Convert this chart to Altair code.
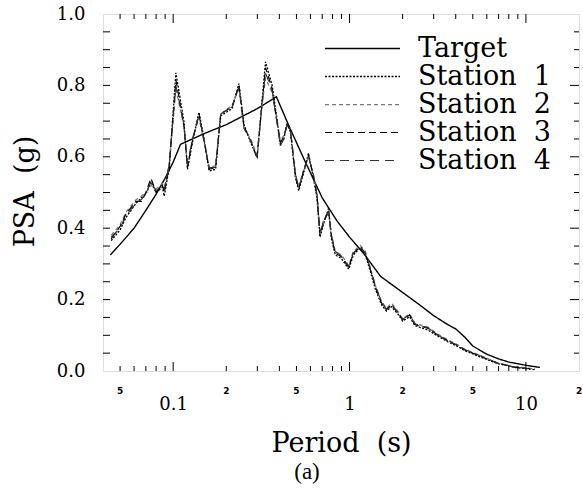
import altair as alt
import pandas as pd

# ---------------- data ----------------
series_names = ["Target", "Station\u00a0\u00a01", "Station\u00a0\u00a02",
                "Station\u00a0\u00a03", "Station\u00a0\u00a04"]

period_target = [0.044, 0.05, 0.06, 0.07, 0.08, 0.09, 0.1, 0.11, 0.15, 0.2, 0.3,
                 0.385, 0.45, 0.55, 0.7, 0.85, 1.0, 1.2, 1.5, 2.0, 2.5, 3.0, 3.6,
                 4.0, 4.5, 5.0, 6.0, 7.0, 8.0, 10.0, 12.0]
psa_target = [0.325, 0.355, 0.40, 0.45, 0.495, 0.54, 0.585, 0.635, 0.665, 0.69, 0.735,
              0.768, 0.69, 0.595, 0.485, 0.42, 0.375, 0.33, 0.265, 0.22, 0.185, 0.155, 0.13,
              0.118, 0.095, 0.07, 0.047, 0.034, 0.025, 0.016, 0.01]

period_station = [0.0445, 0.05, 0.054, 0.0616, 0.066, 0.070, 0.0748, 0.080, 0.087, 0.089,
                  0.095, 0.1036, 0.115, 0.1205, 0.1286, 0.140, 0.1497, 0.160, 0.174, 0.186,
                  0.216, 0.236, 0.252, 0.275, 0.299, 0.319, 0.334, 0.364, 0.388, 0.405,
                  0.424, 0.442, 0.462, 0.494, 0.515, 0.549, 0.585, 0.624, 0.654, 0.68,
                  0.71, 0.76, 0.79, 0.83, 0.90, 0.99, 1.05, 1.15, 1.23, 1.31,
                  1.40, 1.52, 1.62, 1.73, 1.89, 2.0, 2.19, 2.35, 2.78, 3.18,
                  3.6, 4.14, 4.5, 5.6, 6.9, 8.6, 11.2]

psa_station1 = [0.365, 0.395, 0.43, 0.47, 0.485, 0.495, 0.53, 0.50, 0.515, 0.49,
                0.57, 0.835, 0.70, 0.565, 0.64, 0.725, 0.65, 0.56, 0.565, 0.715,
                0.735, 0.805, 0.69, 0.64, 0.60, 0.755, 0.866, 0.80, 0.705, 0.635,
                0.65, 0.695, 0.67, 0.54, 0.505, 0.555, 0.61, 0.54, 0.485, 0.375,
                0.41, 0.455, 0.37, 0.325, 0.315, 0.285, 0.325, 0.345, 0.325, 0.28,
                0.23, 0.185, 0.168, 0.18, 0.158, 0.14, 0.152, 0.127, 0.115, 0.097,
                0.082, 0.068, 0.057, 0.038, 0.021, 0.01, 0.004]
psa_station2 = [0.38, 0.41, 0.445, 0.48, 0.49, 0.50, 0.52, 0.51, 0.525, 0.505,
                0.58, 0.79, 0.685, 0.575, 0.65, 0.71, 0.64, 0.57, 0.575, 0.72,
                0.745, 0.79, 0.68, 0.65, 0.605, 0.745, 0.82, 0.78, 0.695, 0.645,
                0.66, 0.685, 0.68, 0.55, 0.515, 0.565, 0.60, 0.55, 0.495, 0.385,
                0.42, 0.445, 0.38, 0.335, 0.325, 0.295, 0.335, 0.352, 0.335, 0.29,
                0.24, 0.195, 0.176, 0.19, 0.166, 0.146, 0.16, 0.133, 0.123, 0.103,
                0.088, 0.072, 0.061, 0.042, 0.023, 0.012, 0.006]
psa_station3 = [0.37, 0.405, 0.44, 0.475, 0.475, 0.50, 0.54, 0.50, 0.52, 0.50,
                0.575, 0.815, 0.69, 0.57, 0.645, 0.72, 0.645, 0.565, 0.57, 0.72,
                0.74, 0.80, 0.685, 0.645, 0.595, 0.75, 0.85, 0.79, 0.70, 0.64,
                0.655, 0.69, 0.675, 0.545, 0.51, 0.56, 0.605, 0.545, 0.49, 0.38,
                0.415, 0.45, 0.375, 0.33, 0.32, 0.29, 0.33, 0.348, 0.33, 0.285,
                0.236, 0.19, 0.172, 0.185, 0.162, 0.143, 0.157, 0.13, 0.12, 0.10,
                0.085, 0.07, 0.059, 0.04, 0.022, 0.011, 0.005]
psa_station4 = [0.375, 0.40, 0.435, 0.47, 0.48, 0.495, 0.53, 0.505, 0.52, 0.51,
                0.58, 0.80, 0.69, 0.58, 0.65, 0.715, 0.645, 0.57, 0.57, 0.72,
                0.74, 0.795, 0.68, 0.645, 0.60, 0.745, 0.835, 0.785, 0.695, 0.63,
                0.65, 0.69, 0.675, 0.55, 0.515, 0.56, 0.60, 0.55, 0.495, 0.39,
                0.415, 0.445, 0.38, 0.335, 0.322, 0.292, 0.33, 0.345, 0.33, 0.288,
                0.24, 0.192, 0.174, 0.186, 0.163, 0.145, 0.158, 0.132, 0.121, 0.10,
                0.086, 0.071, 0.06, 0.041, 0.022, 0.011, 0.005]

x_major_labels = [0.1, 1, 10]
x_minor_label_values = [0.05, 0.2, 0.5, 2, 5, 20]
x_minor_label_texts = ["5", "2", "5", "2", "5", "2"]
y_label_values = [0.0, 0.2, 0.4, 0.6, 0.8, 1.0]

x_major_ticks = [0.1, 1, 10]
x_minor_ticks = [0.05, 0.06, 0.07, 0.08, 0.09,
                 0.2, 0.3, 0.4, 0.5, 0.6, 0.7, 0.8, 0.9,
                 2, 3, 4, 5, 6, 7, 8, 9]
y_major_ticks = [0.2, 0.4, 0.6, 0.8]
y_minor_ticks = [0.05, 0.1, 0.15, 0.25, 0.3, 0.35, 0.45, 0.5, 0.55,
                 0.65, 0.7, 0.75, 0.85, 0.9, 0.95]

# ---------------- tables ----------------
rows = []
for i, (p, v) in enumerate(zip(period_target, psa_target)):
    rows.append({"period": p, "psa": v, "series": series_names[0], "idx": i})
for name, vals in zip(series_names[1:], [psa_station1, psa_station2, psa_station3, psa_station4]):
    for i, (p, v) in enumerate(zip(period_station, vals)):
        rows.append({"period": p, "psa": v, "series": name, "idx": i})
df = pd.DataFrame(rows)

W, H = 476, 357
SERIF = "'DejaVu Serif', 'Liberation Serif', serif"

x_scale = alt.Scale(type="log", domain=[0.04, 20], nice=False)
y_scale = alt.Scale(domain=[0, 1], nice=False)

X_TITLE = "Period\u00a0\u00a0(s)"
Y_TITLE = "PSA\u00a0\u00a0(g)"

x_axis = alt.Axis(values=x_major_labels, format="~g", ticks=False, domain=False,
                  grid=False, labelFont=SERIF, labelFontSize=18, labelColor="black",
                  labelPadding=24, labelFlush=False,
                  title=X_TITLE, titleFont=SERIF, titleFontSize=27,
                  titleFontWeight="normal", titleColor="black",
                  titleY=80, titleBaseline="alphabetic")
y_axis = alt.Axis(values=y_label_values, format=".1f", ticks=False, domain=False,
                  grid=False, labelFont=SERIF, labelFontSize=18, labelColor="black",
                  labelPadding=18,
                  title=Y_TITLE, titleFont=SERIF, titleFontSize=27,
                  titleFontWeight="normal", titleColor="black",
                  titleX=-70, titleY=177, titleBaseline="alphabetic",
                  titleAlign="center")

dashes = [[1, 0], [2, 1.5], [4, 3], [7, 4], [9, 6]]
colors = ["black", "black", "#777777", "black", "#333333"]
widths = [1.4, 1.1, 1.0, 1.1, 1.0]

legend = alt.Legend(title=None, orient="none", legendX=276, legendY=21,
                    symbolType="M-9,0H1", symbolSize=225, symbolStrokeWidth=1.2,
                    labelFont=SERIF, labelFontSize=27, labelColor="black",
                    labelOffset=12, rowPadding=0, padding=0, labelLimit=300)

lines = alt.Chart(df).mark_line().encode(
    x=alt.X("period:Q", scale=x_scale, axis=x_axis, title=X_TITLE),
    y=alt.Y("psa:Q", scale=y_scale, axis=y_axis, title=Y_TITLE),
    strokeDash=alt.StrokeDash("series:N", scale=alt.Scale(domain=series_names, range=dashes),
                              legend=legend),
    color=alt.Color("series:N", scale=alt.Scale(domain=series_names, range=colors),
                    legend=legend),
    strokeWidth=alt.StrokeWidth("series:N", scale=alt.Scale(domain=series_names, range=widths),
                                legend=None),
    order="idx:Q",
)

# ticks (inward) drawn from tick value lists
def xtick_layer(vals, length, top):
    d = pd.DataFrame({"v": vals})
    if top:
        y0, y1 = 0, length
    else:
        y0, y1 = H, H - length
    return alt.Chart(d).mark_rule(color="black", strokeWidth=1).encode(
        x=alt.X("v:Q", scale=x_scale, axis=x_axis, title=X_TITLE),
        y=alt.value(y0), y2=alt.value(y1))

def ytick_layer(vals, length, right):
    d = pd.DataFrame({"v": vals})
    if right:
        x0, x1 = W, W - length
    else:
        x0, x1 = 0, length
    return alt.Chart(d).mark_rule(color="black", strokeWidth=1).encode(
        y=alt.Y("v:Q", scale=y_scale, axis=y_axis, title=Y_TITLE),
        x=alt.value(x0), x2=alt.value(x1))

ticks = [
    xtick_layer(x_major_ticks, 9, False), xtick_layer(x_minor_ticks, 5, False),
    xtick_layer(x_major_ticks, 9, True), xtick_layer(x_minor_ticks, 5, True),
    ytick_layer(y_major_ticks, 7, False), ytick_layer(y_minor_ticks, 7, False),
    ytick_layer(y_major_ticks, 9, True), ytick_layer(y_minor_ticks, 5, True),
]

minor_labels = alt.Chart(pd.DataFrame({"v": x_minor_label_values, "t": x_minor_label_texts})).mark_text(
    font="DejaVu Sans", fontSize=9, fontWeight="bold", color="black", baseline="middle"
).encode(x=alt.X("v:Q", scale=x_scale, axis=x_axis, title=X_TITLE),
         y=alt.value(H + 20), text="t:N")

chart = alt.layer(lines, minor_labels, *ticks).properties(
    width=W, height=H,
    autosize=alt.AutoSizeParams(type="none"),
    padding={"left": 103, "top": 14, "right": 4, "bottom": 125},
    title=alt.TitleParams("(a)", orient="bottom", anchor="middle", offset=5, dx=-34,
                          font="Liberation Serif", fontSize=23, fontWeight="normal",
                          color="black"),
).configure_view(stroke="black", strokeWidth=1.3).configure(background="white")

chart.save("out.html", embed_options={"renderer": "svg", "actions": False})
